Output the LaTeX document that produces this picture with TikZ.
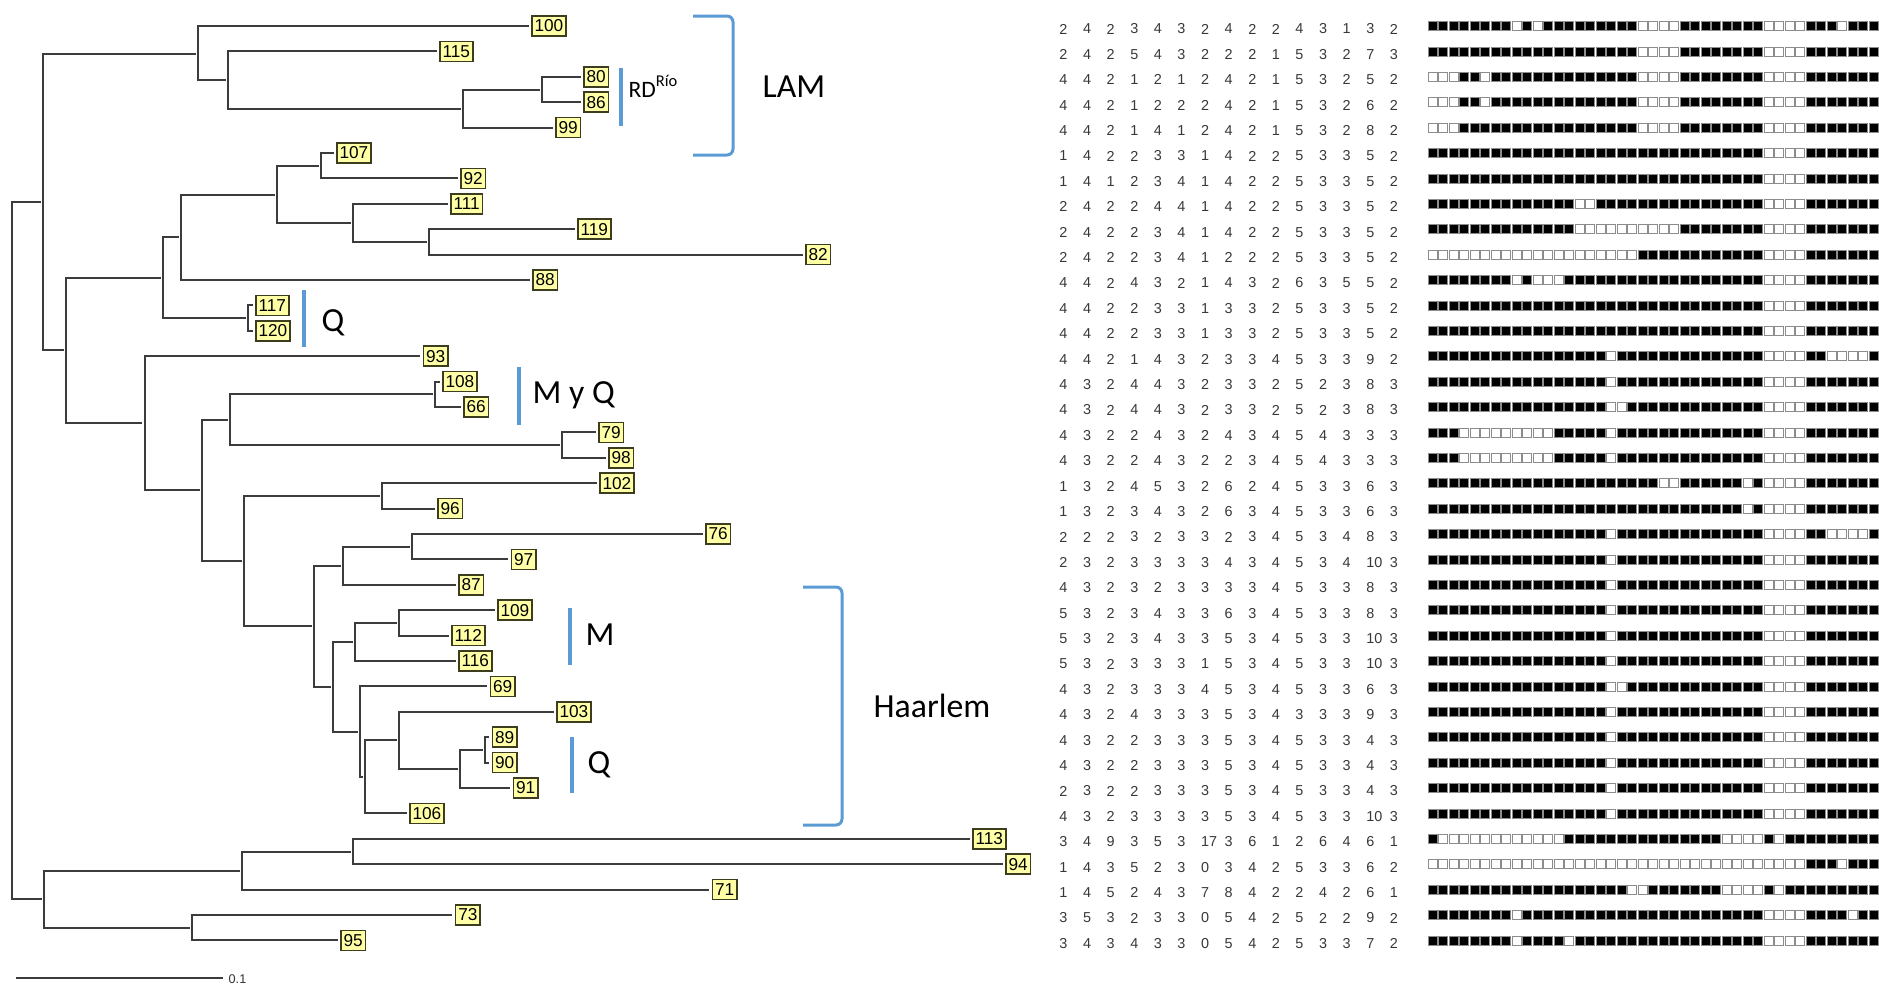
\documentclass[tikz,border=0pt]{standalone}
\usepackage{fontspec}
\usetikzlibrary{backgrounds}
\setmainfont{Carlito}
\newfontfamily\arialf{Liberation Sans}
\definecolor{lblue}{RGB}{91,155,213}
\definecolor{lemon}{RGB}{255,255,165}
\definecolor{treegray}{RGB}{60,60,60}
\definecolor{boxedge}{RGB}{60,60,30}
\tikzset{
 tree/.style={draw=treegray, line width=0.2mm, shorten >=0.25mm},
 leafbox/.style={draw=boxedge, fill=lemon, line width=0.15mm, font=\arialf\fontsize{4.9}{5}\selectfont, inner xsep=0.28mm, inner ysep=0pt, minimum height=2.0mm, anchor=west},
 numtxt/.style={font=\arialf\fontsize{4.1}{4.5}\selectfont, text=black!78, inner sep=0pt},
 blueline/.style={draw=lblue, line width=0.4mm},
 bracket/.style={draw=lblue, line width=0.3mm, rounded corners=0.6mm},
 clade/.style={font=\fontsize{9.6}{11}\selectfont, anchor=base west, inner sep=0pt, text=black},
 sqb/.style={fill=black, draw=black!45, line width=0.08mm},
 sqw/.style={fill=white, draw=black!45, line width=0.08mm},
}
\newcommand\numrow[2]{%
  \foreach \v [count=\j] in {#2}{%
    \pgfmathsetmacro\xx{1063.5+23.6*(\j-1)+(\v>9?4:0)}%
    \node[numtxt] (n#1x\j) at (\xx,{29+25.4*(#1-1)}) {\v};}}
\newcommand\spol[2]{%
  \foreach \k in {1,...,43}{\path[sqb] ({1428.3+10.5*(\k-1)},{26+25.4*(#1-1)-4.5}) rectangle ++(8.6,9);}%
  \foreach \k in {#2}{\path[sqw] ({1428.3+10.5*(\k-1)},{26+25.4*(#1-1)-4.5}) rectangle ++(8.6,9);}}
\begin{document}
\begin{tikzpicture}[x=0.1mm, y=-0.1mm]
\useasboundingbox (0,0) rectangle (1879,986);
% internal nodes
\coordinate (R0) at (12,549);
\coordinate (A) at (43,202);
\coordinate (B) at (44,899);
\coordinate (C) at (198,53.5);
\coordinate (E) at (228,79.7);
\coordinate (F) at (463,108.8);
\coordinate (G) at (542,89.5);
\coordinate (D) at (66,350);
\coordinate (H) at (163,277.5);
\coordinate (I) at (181,237);
\coordinate (J) at (277,194.5);
\coordinate (K) at (321,165.7);
\coordinate (L) at (353,223);
\coordinate (M) at (429,241.9);
\coordinate (N) at (248,318.1);
\coordinate (O) at (144.5,423);
\coordinate (P) at (202,490);
\coordinate (Q1) at (230,420);
\coordinate (S) at (435,394.3);
\coordinate (T) at (562,445.1);
\coordinate (R) at (244,560.8);
\coordinate (U) at (382,495.9);
\coordinate (V) at (314,625.8);
\coordinate (W) at (343,565.7);
\coordinate (Y) at (412,546.7);
\coordinate (X) at (333,686.8);
\coordinate (Z) at (355,641.8);
\coordinate (AB) at (399,622.9);
\coordinate (AA) at (360,731.7);
\coordinate (AC) at (365,776.7);
\coordinate (AD) at (399,740.4);
\coordinate (AE) at (460,769);
\coordinate (AF) at (485,749.9);
\coordinate (AG) at (242,870.6);
\coordinate (AI) at (353,851.5);
\coordinate (AH) at (192,927.7);
% leaves
\node[leafbox] (l100) at (531,26) {100};
\node[leafbox] (l115) at (439,51.4) {115};
\node[leafbox] (l80) at (583,76.8) {80};
\node[leafbox] (l86) at (583,102.2) {86};
\node[leafbox] (l99) at (555,127.6) {99};
\node[leafbox] (l107) at (336,153) {107};
\node[leafbox] (l92) at (460,178.4) {92};
\node[leafbox] (l111) at (450,203.8) {111};
\node[leafbox] (l119) at (577,229.2) {119};
\node[leafbox] (l82) at (805,254.6) {82};
\node[leafbox] (l88) at (532,280) {88};
\node[leafbox] (l117) at (255,305.4) {117};
\node[leafbox] (l120) at (255,330.8) {120};
\node[leafbox] (l93) at (422.5,356.2) {93};
\node[leafbox] (l108) at (442,381.6) {108};
\node[leafbox] (l66) at (463,407) {66};
\node[leafbox] (l79) at (598,432.4) {79};
\node[leafbox] (l98) at (608,457.8) {98};
\node[leafbox] (l102) at (599,483.2) {102};
\node[leafbox] (l96) at (437,508.6) {96};
\node[leafbox] (l76) at (705,534) {76};
\node[leafbox] (l97) at (510.5,559.4) {97};
\node[leafbox] (l87) at (458,584.8) {87};
\node[leafbox] (l109) at (497,610.2) {109};
\node[leafbox] (l112) at (451,635.6) {112};
\node[leafbox] (l116) at (458,661) {116};
\node[leafbox] (l69) at (489.5,686.4) {69};
\node[leafbox] (l103) at (556,711.8) {103};
\node[leafbox] (l89) at (491.5,737.2) {89};
\node[leafbox] (l90) at (491.5,762.6) {90};
\node[leafbox] (l91) at (512.5,788) {91};
\node[leafbox] (l106) at (409,813.4) {106};
\node[leafbox] (l113) at (972,838.8) {113};
\node[leafbox] (l94) at (1005,864.2) {94};
\node[leafbox] (l71) at (711.5,889.6) {71};
\node[leafbox] (l73) at (454.7,915) {73};
\node[leafbox] (l95) at (340,940.4) {95};
% edges
\begin{scope}[on background layer]
\fill[white] (0,0) rectangle (1879,986);
\draw[tree] (R0) |- (A); \draw[tree] (R0) |- (B);
\draw[tree] (A) |- (C); \draw[tree] (A) |- (D);
\draw[tree] (C) |- (l100.west); \draw[tree] (C) |- (E);
\draw[tree] (E) |- (l115.west); \draw[tree] (E) |- (F);
\draw[tree] (F) |- (G); \draw[tree] (F) |- (l99.west);
\draw[tree] (G) |- (l80.west); \draw[tree] (G) |- (l86.west);
\draw[tree] (D) |- (H); \draw[tree] (D) |- (O);
\draw[tree] (H) |- (I); \draw[tree] (H) |- (N);
\draw[tree] (I) |- (J); \draw[tree] (I) |- (l88.west);
\draw[tree] (J) |- (K); \draw[tree] (J) |- (L);
\draw[tree] (K) |- (l107.west); \draw[tree] (K) |- (l92.west);
\draw[tree] (L) |- (l111.west); \draw[tree] (L) |- (M);
\draw[tree] (M) |- (l119.west); \draw[tree] (M) |- (l82.west);
\draw[tree] (N) |- (l117.west); \draw[tree] (N) |- (l120.west);
\draw[tree] (O) |- (l93.west); \draw[tree] (O) |- (P);
\draw[tree] (P) |- (Q1); \draw[tree] (P) |- (R);
\draw[tree] (Q1) |- (S); \draw[tree] (Q1) |- (T);
\draw[tree] (S) |- (l108.west); \draw[tree] (S) |- (l66.west);
\draw[tree] (T) |- (l79.west); \draw[tree] (T) |- (l98.west);
\draw[tree] (R) |- (U); \draw[tree] (R) |- (V);
\draw[tree] (U) |- (l102.west); \draw[tree] (U) |- (l96.west);
\draw[tree] (V) |- (W); \draw[tree] (V) |- (X);
\draw[tree] (W) |- (Y); \draw[tree] (W) |- (l87.west);
\draw[tree] (Y) |- (l76.west); \draw[tree] (Y) |- (l97.west);
\draw[tree] (X) |- (Z); \draw[tree] (X) |- (AA);
\draw[tree] (Z) |- (AB); \draw[tree] (Z) |- (l116.west);
\draw[tree] (AB) |- (l109.west); \draw[tree] (AB) |- (l112.west);
\draw[tree] (AA) |- (l69.west); \draw[tree] (AA) |- (AC);
\draw[tree] (AC) |- (AD); \draw[tree] (AC) |- (l106.west);
\draw[tree] (AD) |- (l103.west); \draw[tree] (AD) |- (AE);
\draw[tree] (AE) |- (AF); \draw[tree] (AE) |- (l91.west);
\draw[tree] (AF) |- (l89.west); \draw[tree] (AF) |- (l90.west);
\draw[tree] (B) |- (AG); \draw[tree] (B) |- (AH);
\draw[tree] (AG) |- (AI); \draw[tree] (AG) |- (l71.west);
\draw[tree] (AI) |- (l113.west); \draw[tree] (AI) |- (l94.west);
\draw[tree] (AH) |- (l73.west); \draw[tree] (AH) |- (l95.west);
\end{scope}
% scale bar
\coordinate (sb1) at (16,978);
\coordinate (sb2) at (223,978);
\draw[draw=treegray, line width=0.15mm] (sb1) -- (sb2);
\node[anchor=west, inner sep=0pt, font=\arialf\fontsize{3.6}{4}\selectfont, text=black!80] (sblab) at (228,979) {0.1};
% blue markers
\coordinate (rd1) at (621,68); \coordinate (rd2) at (621,126);
\draw[blueline] (rd1) -- (rd2);
\node[anchor=base west, inner sep=0pt, font=\fontsize{6.7}{8}\selectfont] (rdlab) at (628,97) {RD\textsuperscript{Río}};
\coordinate (q1a) at (304,290); \coordinate (q1b) at (304,347);
\draw[blueline] (q1a) -- (q1b);
\node[clade] (qlab1) at (321,331) {Q};
\coordinate (mqa) at (519,367); \coordinate (mqb) at (519,425);
\draw[blueline] (mqa) -- (mqb);
\node[clade] (mqlab) at (532,403) {M y Q};
\coordinate (ma) at (570,608); \coordinate (mb) at (570,665);
\draw[blueline] (ma) -- (mb);
\node[clade] (mlab) at (585,645) {M};
\coordinate (q2a) at (572,737); \coordinate (q2b) at (572,793);
\draw[blueline] (q2a) -- (q2b);
\node[clade] (qlab2) at (587,773) {Q};
% brackets
\coordinate (lamt) at (693,16); \coordinate (lamm) at (733,85); \coordinate (lamb) at (693,155);
\draw[bracket] (lamt) -| (lamm) |- (lamb);
\node[clade] (lamlab) at (762,97) {LAM};
\coordinate (hat) at (803,587); \coordinate (ham) at (842,706); \coordinate (hab) at (803,825);
\draw[bracket] (hat) -| (ham) |- (hab);
\node[clade] (halab) at (873,717) {Haarlem};
% numbers
\numrow{1}{2,4,2,3,4,3,2,4,2,2,4,3,1,3,2}
\numrow{2}{2,4,2,5,4,3,2,2,2,1,5,3,2,7,3}
\numrow{3}{4,4,2,1,2,1,2,4,2,1,5,3,2,5,2}
\numrow{4}{4,4,2,1,2,2,2,4,2,1,5,3,2,6,2}
\numrow{5}{4,4,2,1,4,1,2,4,2,1,5,3,2,8,2}
\numrow{6}{1,4,2,2,3,3,1,4,2,2,5,3,3,5,2}
\numrow{7}{1,4,1,2,3,4,1,4,2,2,5,3,3,5,2}
\numrow{8}{2,4,2,2,4,4,1,4,2,2,5,3,3,5,2}
\numrow{9}{2,4,2,2,3,4,1,4,2,2,5,3,3,5,2}
\numrow{10}{2,4,2,2,3,4,1,2,2,2,5,3,3,5,2}
\numrow{11}{4,4,2,4,3,2,1,4,3,2,6,3,5,5,2}
\numrow{12}{4,4,2,2,3,3,1,3,3,2,5,3,3,5,2}
\numrow{13}{4,4,2,2,3,3,1,3,3,2,5,3,3,5,2}
\numrow{14}{4,4,2,1,4,3,2,3,3,4,5,3,3,9,2}
\numrow{15}{4,3,2,4,4,3,2,3,3,2,5,2,3,8,3}
\numrow{16}{4,3,2,4,4,3,2,3,3,2,5,2,3,8,3}
\numrow{17}{4,3,2,2,4,3,2,4,3,4,5,4,3,3,3}
\numrow{18}{4,3,2,2,4,3,2,2,3,4,5,4,3,3,3}
\numrow{19}{1,3,2,4,5,3,2,6,2,4,5,3,3,6,3}
\numrow{20}{1,3,2,3,4,3,2,6,3,4,5,3,3,6,3}
\numrow{21}{2,2,2,3,2,3,3,2,3,4,5,3,4,8,3}
\numrow{22}{2,3,2,3,3,3,3,4,3,4,5,3,4,10,3}
\numrow{23}{4,3,2,3,2,3,3,3,3,4,5,3,3,8,3}
\numrow{24}{5,3,2,3,4,3,3,6,3,4,5,3,3,8,3}
\numrow{25}{5,3,2,3,4,3,3,5,3,4,5,3,3,10,3}
\numrow{26}{5,3,2,3,3,3,1,5,3,4,5,3,3,10,3}
\numrow{27}{4,3,2,3,3,3,4,5,3,4,5,3,3,6,3}
\numrow{28}{4,3,2,4,3,3,3,5,3,4,3,3,3,9,3}
\numrow{29}{4,3,2,2,3,3,3,5,3,4,5,3,3,4,3}
\numrow{30}{4,3,2,2,3,3,3,5,3,4,5,3,3,4,3}
\numrow{31}{2,3,2,2,3,3,3,5,3,4,5,3,3,4,3}
\numrow{32}{4,3,2,3,3,3,3,5,3,4,5,3,3,10,3}
\numrow{33}{3,4,9,3,5,3,17,3,6,1,2,6,4,6,1}
\numrow{34}{1,4,3,5,2,3,0,3,4,2,5,3,3,6,2}
\numrow{35}{1,4,5,2,4,3,7,8,4,2,2,4,2,6,1}
\numrow{36}{3,5,3,2,3,3,0,5,4,2,5,2,2,9,2}
\numrow{37}{3,4,3,4,3,3,0,5,4,2,5,3,3,7,2}
% spoligotypes
\spol{1}{9,11,21,22,23,24,33,34,35,36,40}
\spol{2}{21,22,23,24,33,34,35,36}
\spol{3}{1,2,3,6,21,22,23,24,33,34,35,36}
\spol{4}{1,2,3,6,21,22,23,24,33,34,35,36}
\spol{5}{1,2,3,21,22,23,24,33,34,35,36}
\spol{6}{33,34,35,36}
\spol{7}{33,34,35,36}
\spol{8}{15,16,33,34,35,36}
\spol{9}{15,16,17,18,19,20,21,22,23,24,33,34,35,36}
\spol{10}{1,2,3,4,5,6,7,8,9,10,11,12,13,14,15,16,17,18,19,20,33,34,35,36}
\spol{11}{9,11,12,13,33,34,35,36}
\spol{12}{33,34,35,36}
\spol{13}{33,34,35,36}
\spol{14}{18,33,34,35,36,39,40,41,42}
\spol{15}{18,33,34,35,36}
\spol{16}{18,19,33,34,35,36}
\spol{17}{4,5,6,7,8,9,10,11,12,18,33,34,35,36}
\spol{18}{4,5,6,7,8,9,10,11,12,18,33,34,35,36}
\spol{19}{23,24,31,33,34,35,36}
\spol{20}{31,33,34,35,36}
\spol{21}{18,33,34,35,36,39,40,41,42}
\spol{22}{18,33,34,35,36}
\spol{23}{18,33,34,35,36}
\spol{24}{18,33,34,35,36}
\spol{25}{18,33,34,35,36}
\spol{26}{18,33,34,35,36}
\spol{27}{18,19,33,34,35,36}
\spol{28}{18,33,34,35,36}
\spol{29}{18,33,34,35,36}
\spol{30}{18,33,34,35,36}
\spol{31}{18,33,34,35,36}
\spol{32}{18,33,34,35,36}
\spol{33}{2,3,4,5,6,7,8,9,10,11,12,13,29,30,31,32,34}
\spol{34}{1,2,3,4,5,6,7,8,9,10,11,12,13,14,15,16,17,18,19,20,21,22,23,24,25,26,27,28,29,30,31,32,33,34,35,36,40}
\spol{35}{20,21,29,30,31,32,34}
\spol{36}{9,33,34,35,36,41}
\spol{37}{9,14,33,34,35,36}
\end{tikzpicture}
\end{document}
